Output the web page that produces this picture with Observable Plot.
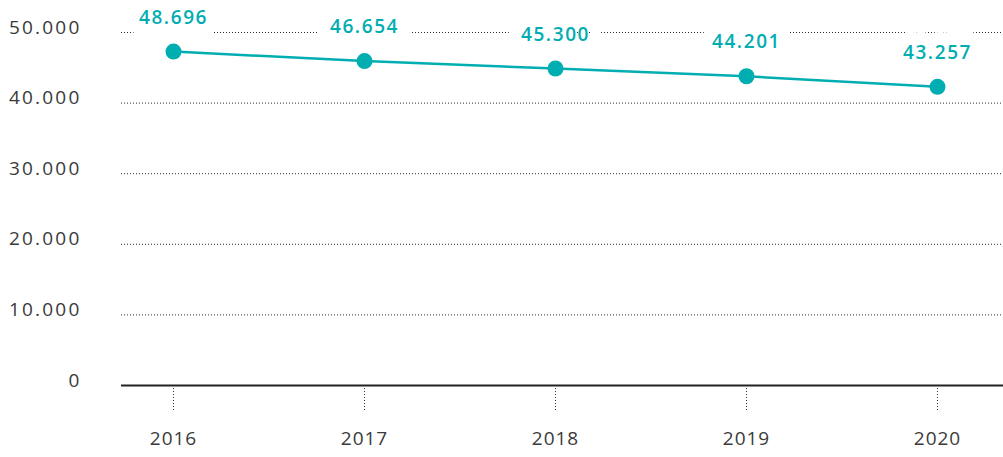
<!DOCTYPE html>
<html>
<head>
<meta charset="utf-8">
<script src="https://cdn.jsdelivr.net/npm/d3@7"></script>
<script src="https://cdn.jsdelivr.net/npm/@observablehq/plot@0.6"></script>
<style>
  html, body { margin: 0; padding: 0; background: #fff; }
  #chart svg { font-family: "Open Sans", "DejaVu Sans", sans-serif; letter-spacing: 1px; }
  #chart svg g[aria-label="y-axis tick label"] text { letter-spacing: 2.2px; }
  #chart svg g[aria-label="text"] text { letter-spacing: 1.6px; }
</style>
</head>
<body>
<div id="chart"></div>
<script>
// Data
const years = ["2016", "2017", "2018", "2019", "2020"];
const values = [47300, 45950, 44900, 43800, 42300];      // plotted positions
const valueLabels = ["48.696", "46.654", "45.300", "44.201", "43.257"];
const yTicks = [0, 10000, 20000, 30000, 40000, 50000];
const yTickLabels = ["0", "10.000", "20.000", "30.000", "40.000", "50.000"];

const data = years.map((y, i) => ({year: y, value: values[i], label: valueLabels[i]}));
const teal = "#00adb1";

const chart = Plot.plot({
  width: 1003,
  height: 457,
  marginLeft: 121,
  marginRight: 0,
  marginTop: 32,
  marginBottom: 72,
  style: {background: "#fff", color: "#333", overflow: "visible"},
  x: {type: "point", domain: years, range: [173, 937], padding: 0, label: null},
  y: {domain: [0, 50000], range: [385, 32], label: null},
  marks: [
    Plot.gridY(yTicks.filter(d => d > 0), {stroke: "#2a2a2a", strokeOpacity: 1, strokeWidth: 1, strokeDasharray: "1,2"}),
    Plot.axisY(yTicks, {
      label: null, tickSize: 0, tickPadding: 40, dy: -5, fontSize: 19, fill: "#3a3a3a",
      tickFormat: (d) => yTickLabels[yTicks.indexOf(d)]
    }),
    Plot.axisX({
      label: null, tickSize: 26, tickPadding: 20, fontSize: 19, fill: "#3a3a3a",
      stroke: "#333", strokeDasharray: "1,2", strokeWidth: 1
    }),
    Plot.ruleY([0], {stroke: "#222", strokeWidth: 2}),
    Plot.text(data, {
      x: "year", y: "value", text: "label", dy: -34,
      fill: teal, fontSize: 19, fontWeight: 600,
      stroke: "white", strokeWidth: 26, strokeLinejoin: "round"
    }),
    Plot.line(data, {x: "year", y: "value", stroke: teal, strokeWidth: 2.5}),
    Plot.dot(data, {x: "year", y: "value", r: 8, fill: teal, stroke: "none"})
  ]
});
document.getElementById("chart").appendChild(chart);
</script>
</body>
</html>
